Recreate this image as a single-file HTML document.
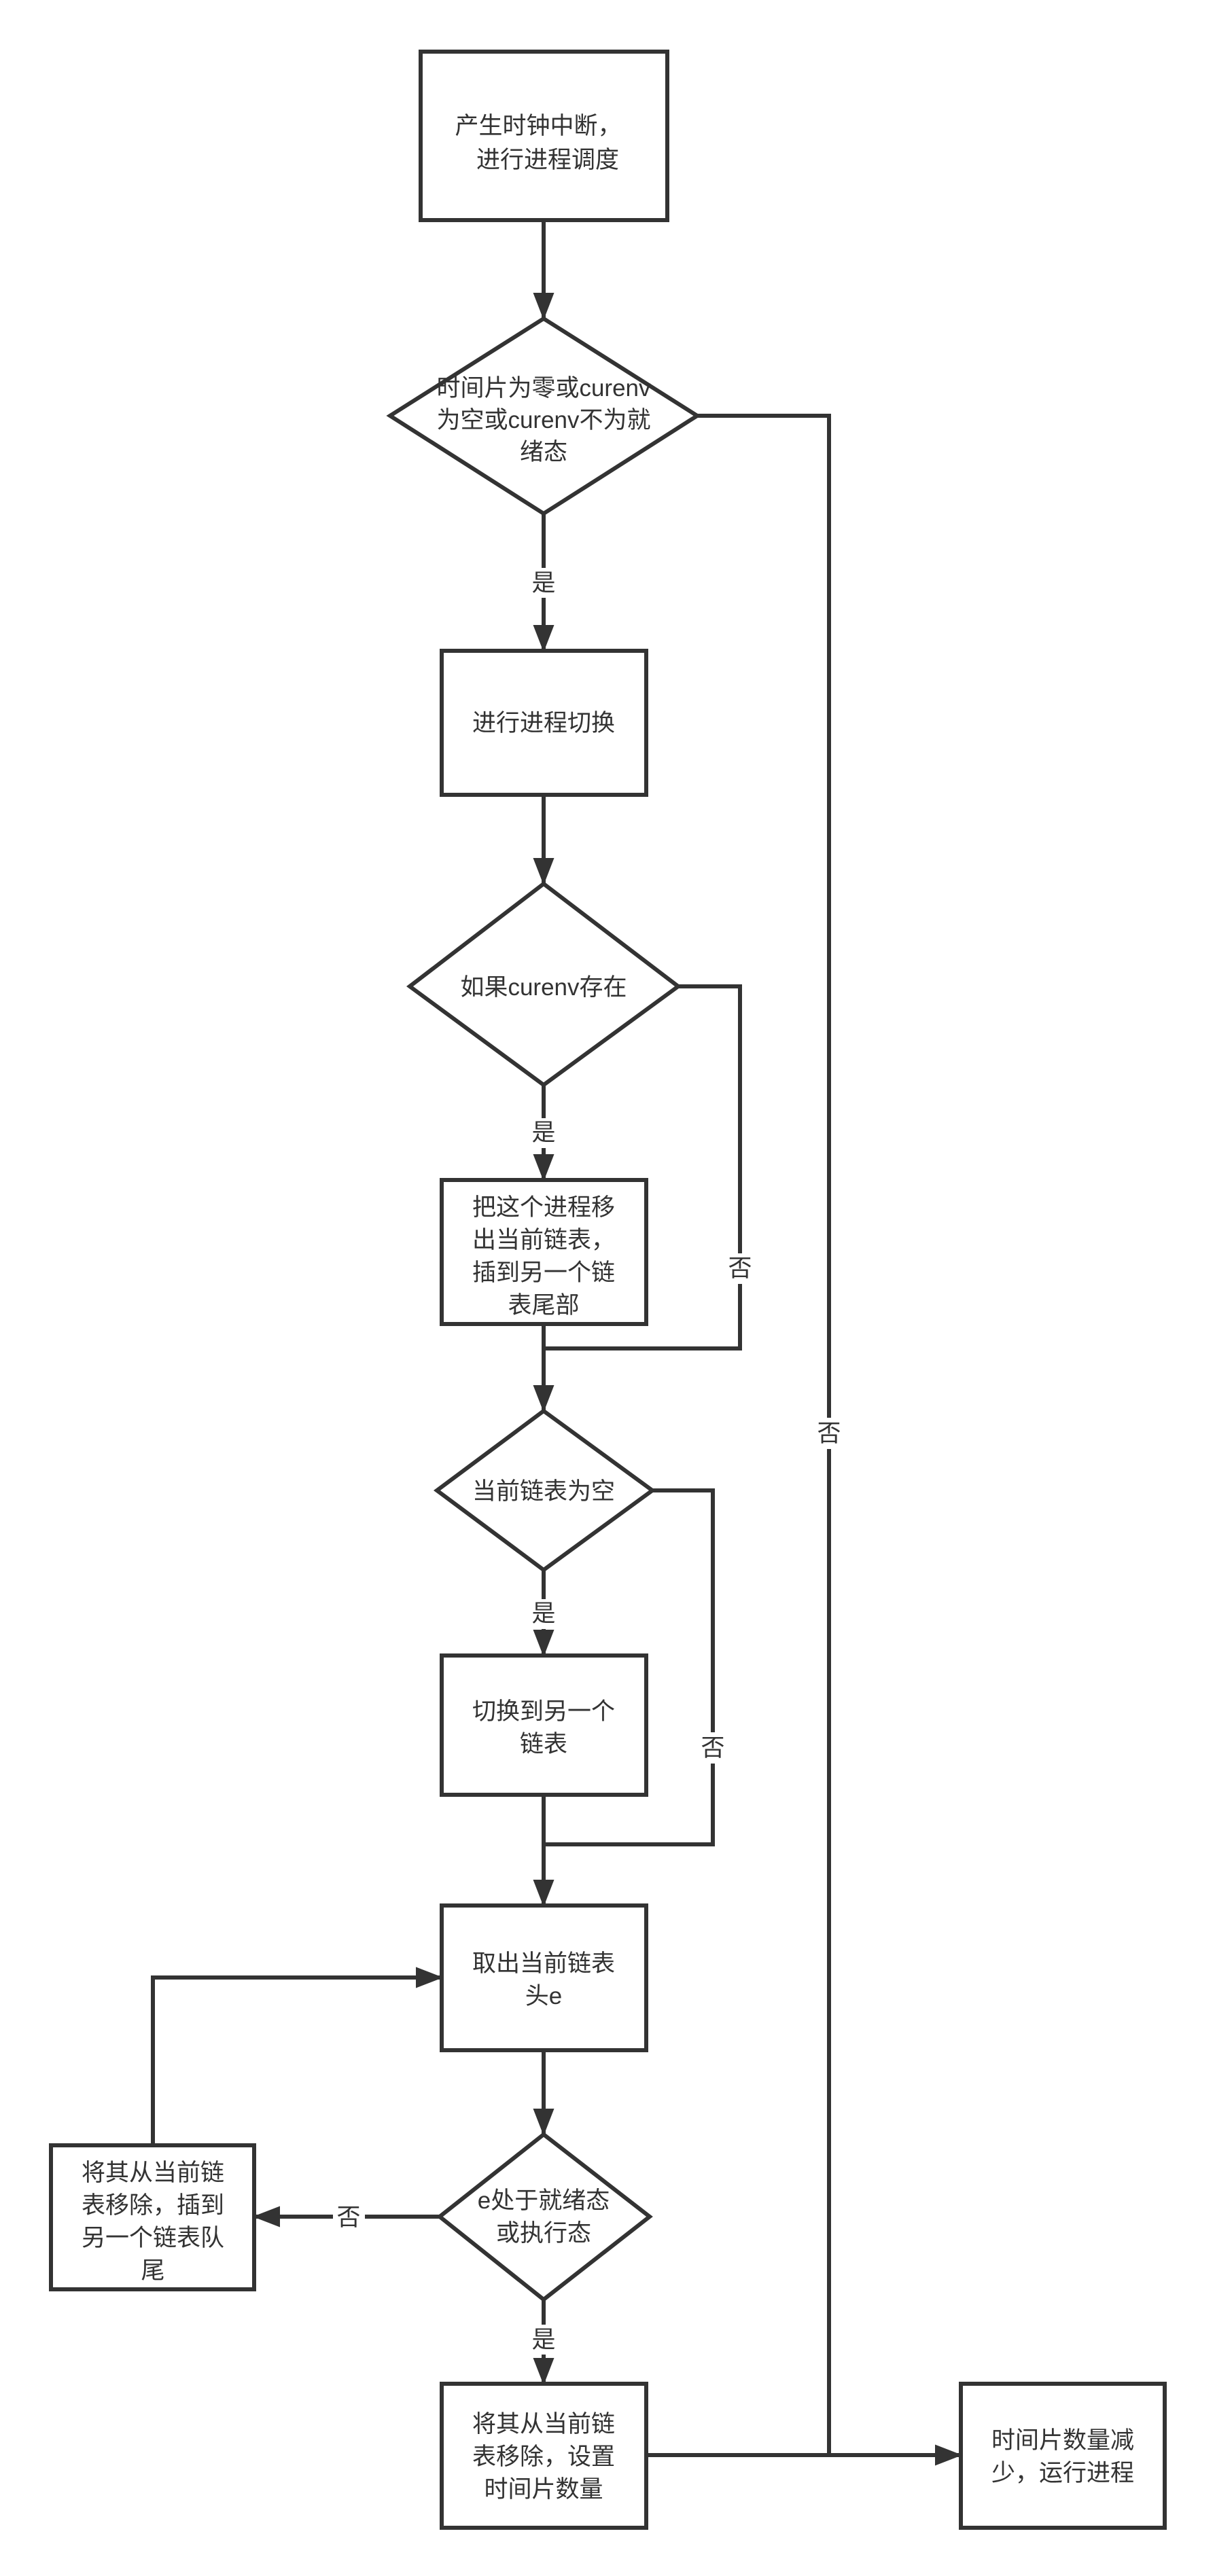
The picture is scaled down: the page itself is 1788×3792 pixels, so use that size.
<!DOCTYPE html>
<html><head><meta charset="utf-8"><style>
html,body{margin:0;padding:0;background:#fff;}
svg{display:block;}
text{font-family:"Liberation Sans","Noto Sans CJK SC",sans-serif;font-size:35px;fill:#333;text-anchor:middle;}
</style></head><body>
<svg width="1788" height="3792" viewBox="0 0 1788 3792" xmlns="http://www.w3.org/2000/svg">
<defs>
<marker id="a" markerWidth="40" markerHeight="31" refX="38" refY="15.5" markerUnits="userSpaceOnUse" viewBox="0 0 40 31" orient="auto">
<path d="M0,0 L40,15.5 L0,31 Z" fill="#333"/>
</marker>
</defs>
<g fill="none" stroke="#333" stroke-width="6">
<rect x="619" y="76" width="363" height="248" fill="#fff"/>
<polygon points="800,469 1026,612 800,756 574,612" fill="#fff"/>
<rect x="650" y="958" width="301" height="212" fill="#fff"/>
<polygon points="800,1301 998,1452 800,1597 603,1452" fill="#fff"/>
<rect x="650" y="1737" width="301" height="212" fill="#fff"/>
<polygon points="800,2077 960,2194 800,2311 643,2194" fill="#fff"/>
<rect x="650" y="2437" width="301" height="205" fill="#fff"/>
<rect x="650" y="2805" width="301" height="213" fill="#fff"/>
<polygon points="800,3142 956,3263 800,3385 647,3263" fill="#fff"/>
<rect x="75" y="3158" width="299" height="212" fill="#fff"/>
<rect x="650" y="3509" width="301" height="212" fill="#fff"/>
<rect x="1414" y="3509" width="300" height="212" fill="#fff"/>
<path d="M800,324 V469" marker-end="url(#a)"/>
<path d="M800,756 V836"/><path d="M800,880 V958" marker-end="url(#a)"/>
<path d="M800,1170 V1301" marker-end="url(#a)"/>
<path d="M800,1597 V1646"/><path d="M800,1690 V1737" marker-end="url(#a)"/>
<path d="M998,1452 H1089 V1845"/><path d="M1089,1890 V1985 H800"/>
<path d="M800,1949 V2077" marker-end="url(#a)"/>
<path d="M800,2311 V2354"/><path d="M800,2398 V2437" marker-end="url(#a)"/>
<path d="M960,2194 H1049 V2550"/><path d="M1049,2596 V2715 H800"/>
<path d="M800,2642 V2805" marker-end="url(#a)"/>
<path d="M800,3018 V3142" marker-end="url(#a)"/>
<path d="M647,3263 H537"/><path d="M490,3263 H374" marker-end="url(#a)"/>
<path d="M225,3158 V2911 H650" marker-end="url(#a)"/>
<path d="M800,3385 V3422"/><path d="M800,3466 V3509" marker-end="url(#a)"/>
<path d="M1026,612 H1220 V2087"/><path d="M1220,2133 V3614"/>
<path d="M951,3614 H1414" marker-end="url(#a)"/>
</g>
<text x="792" y="197">产生时钟中断，</text>
<text x="806" y="247">进行进程调度</text>
<text x="800" y="583">时间片为零或curenv</text>
<text x="800" y="630">为空或curenv不为就</text>
<text x="800" y="677">绪态</text>
<text x="800" y="870">是</text>
<text x="800" y="1076">进行进程切换</text>
<text x="800" y="1465">如果curenv存在</text>
<text x="800" y="1679">是</text>
<text x="800" y="1789">把这个进程移</text>
<text x="800" y="1837">出当前链表，</text>
<text x="800" y="1885">插到另一个链</text>
<text x="800" y="1933">表尾部</text>
<text x="1089" y="1879">否</text>
<text x="1220" y="2122">否</text>
<text x="800" y="2207">当前链表为空</text>
<text x="800" y="2387">是</text>
<text x="800" y="2531">切换到另一个</text>
<text x="800" y="2579">链表</text>
<text x="1049" y="2585">否</text>
<text x="800" y="2902">取出当前链表</text>
<text x="800" y="2950">头e</text>
<text x="800" y="3251">e处于就绪态</text>
<text x="800" y="3299">或执行态</text>
<text x="513" y="3276">否</text>
<text x="225" y="3210">将其从当前链</text>
<text x="225" y="3258">表移除，插到</text>
<text x="225" y="3306">另一个链表队</text>
<text x="225" y="3354">尾</text>
<text x="800" y="3456">是</text>
<text x="800" y="3580">将其从当前链</text>
<text x="800" y="3628">表移除，设置</text>
<text x="800" y="3676">时间片数量</text>
<text x="1564" y="3604">时间片数量减</text>
<text x="1564" y="3652">少，运行进程</text>
</svg>
</body></html>
